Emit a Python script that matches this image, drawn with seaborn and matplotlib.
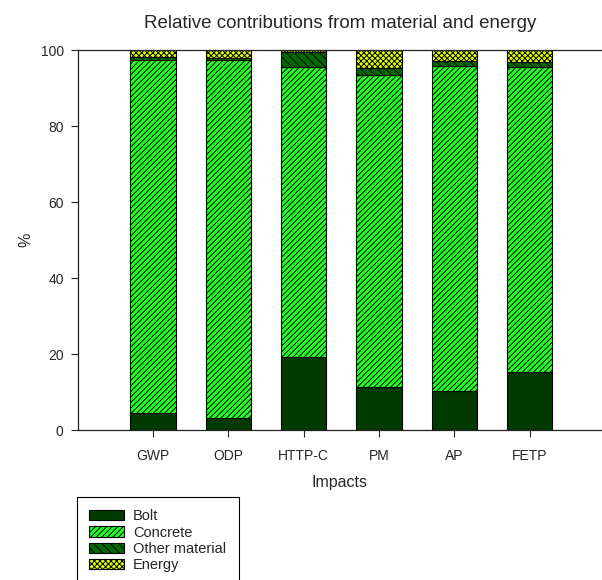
import matplotlib
matplotlib.use("Agg")
import matplotlib.pyplot as plt
import numpy as np
import pandas as pd
import seaborn as sns

impacts = ["GWP", "ODP", "HTTP-C", "PM", "AP", "FETP"]
bolt = [4.4, 3.1, 19.2, 11.2, 10.3, 15.3]
concrete = [93.1, 94.4, 76.3, 82.2, 85.5, 80.3]
other_material = [0.6, 0.5, 4.0, 1.9, 1.2, 1.3]
energy = [1.9, 2.0, 0.5, 4.7, 3.0, 3.1]

sns.set_style("ticks")
plt.rcParams['font.family'] = ['Liberation Sans', 'DejaVu Sans']
plt.rcParams['hatch.linewidth'] = 0.7

df = pd.DataFrame({"Impacts": impacts, "Bolt": bolt, "Concrete": concrete,
                   "Other material": other_material, "Energy": energy})

# stacking order, colours and hatches
layers = ["Bolt", "Concrete", "Other material", "Energy"]
colors = {"Bolt": "#003a00", "Concrete": "#22ff22",
          "Other material": "#006a00", "Energy": "#e0ff00"}
hatches = {"Bolt": "", "Concrete": "//////", "Other material": "\\\\\\\\",
           "Energy": "xxxxxx"}

fig = plt.figure(figsize=(6.02, 5.8), dpi=100)
ax = fig.add_axes([77.6 / 602, 150 / 580, 1 - 77.6 / 602, 380 / 580])

bottom = np.zeros(len(df))
handles = []
for name in layers:
    sns.barplot(data=df, x="Impacts", y=name, bottom=bottom, color=colors[name],
                hatch=hatches[name], edgecolor="black", linewidth=0.8,
                width=0.6, saturation=1, ax=ax)
    handles.append(ax.patches[-1])
    bottom = bottom + df[name].values

ax.set_xlim(-1, 5.96)
ax.set_ylim(0, 100)
ax.set_yticks([0, 20, 40, 60, 80, 100])
ax.tick_params(axis="y", length=5, width=0.8, pad=5, labelsize=10)
ax.tick_params(axis="x", length=5, width=0.8, pad=9, labelsize=10)
ax.spines["right"].set_visible(False)
for s in ["left", "bottom", "top"]:
    ax.spines[s].set_linewidth(0.9)
    ax.spines[s].set_color("#222222")

ax.set_xlabel("Impacts", fontsize=11.5)
ax.xaxis.set_label_coords(0.5, -0.118)
ax.set_ylabel("%", fontsize=11.5)
ax.yaxis.set_label_coords(-0.085, 0.5)
ax.set_title("Relative contributions from material and energy", fontsize=13.5, pad=16)

fig.legend(handles, layers, loc="upper left",
           bbox_to_anchor=(77 / 602, 1 - 497 / 580), borderaxespad=0,
           fontsize=10.5, frameon=True, fancybox=False, edgecolor="black",
           framealpha=1, handlelength=2.4, handleheight=0.7,
           labelspacing=0.15, handletextpad=0.6, borderpad=0.85)
fig.legends[0].get_frame().set_linewidth(0.8)

fig.savefig("out.png", dpi=100)
